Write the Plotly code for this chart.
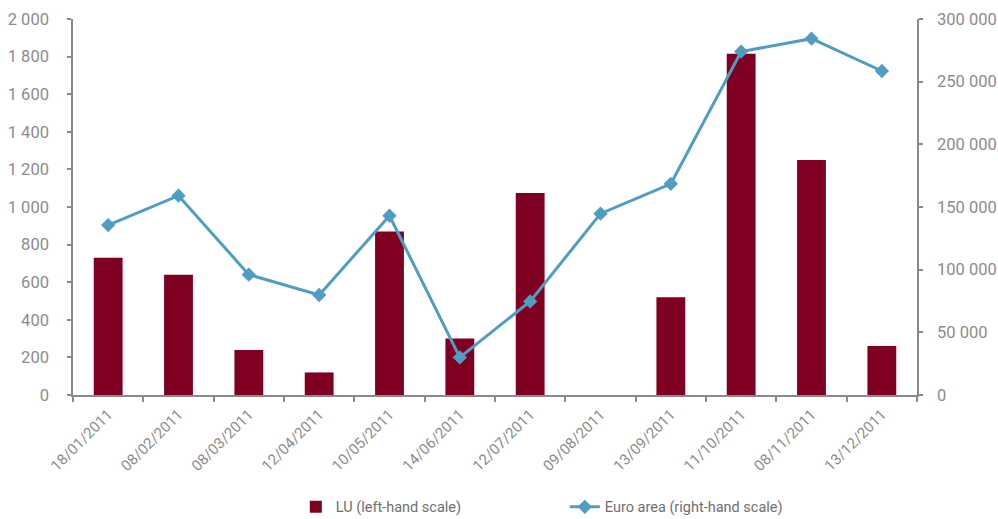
import plotly.graph_objects as go

dates = ["18/01/2011", "08/02/2011", "08/03/2011", "12/04/2011", "10/05/2011", "14/06/2011",
         "12/07/2011", "09/08/2011", "13/09/2011", "11/10/2011", "08/11/2011", "13/12/2011"]
lu_values = [730, 640, 240, 120, 870, 300, 1075, 0, 520, 1815, 1250, 260]
euro_area_values = [135600, 159000, 96000, 79800, 143000, 30000, 74700, 144700, 168500,
                    274000, 284300, 258500]

bar_color = "#800022"
line_color = "#4f9ec2"
axis_color = "#8a8a8a"
text_color = "#8c8c8c"
font_family = "Roboto, 'Open Sans', sans-serif"

n_cat = len(dates)
x_range = [-0.5, n_cat - 0.5]
# boundaries between categories, used for the inward half of the crossing ticks
boundaries = [i - 0.5 for i in range(n_cat + 1)]

fig = go.Figure()
fig.add_trace(go.Bar(
    x=dates, y=lu_values, name="LU (left-hand scale)",
    marker=dict(color=bar_color, line=dict(width=0)),
    width=0.41, yaxis="y",
))
fig.add_trace(go.Scatter(
    x=dates, y=euro_area_values, name="Euro area (right-hand scale)",
    mode="lines+markers",
    line=dict(color=line_color, width=3),
    marker=dict(symbol="diamond", size=11, color=line_color),
    yaxis="y2",
))

tick_style = dict(tickcolor=axis_color, tickwidth=1.5)
axis_common = dict(showgrid=False, zeroline=False, showline=True, linecolor=axis_color,
                   linewidth=1.5, automargin=False,
                   tickfont=dict(family=font_family, size=16.5, color=text_color), **tick_style)
inner_ticks = dict(showgrid=False, zeroline=False, showline=False, showticklabels=False,
                   ticks="inside", ticklen=4, automargin=False, **tick_style)

fig.update_layout(
    width=998, height=519,
    margin=dict(l=73, r=81, t=19, b=124, autoexpand=False),
    paper_bgcolor="white", plot_bgcolor="white",
    separators=". ",
    bargap=0.59,
    font=dict(family=font_family, color=text_color),
    xaxis=dict(type="category", range=x_range, tickson="boundaries", ticks="outside", ticklen=5,
               tickangle=-45, showgrid=False, zeroline=False, showline=True, automargin=False,
               linecolor=axis_color, linewidth=1.5, ticklabelstandoff=3, **tick_style,
               tickfont=dict(family=font_family, size=15, color=text_color)),
    xaxis2=dict(overlaying="x", anchor="y", side="bottom", range=x_range,
                tickmode="array", tickvals=boundaries, **inner_ticks),
    yaxis=dict(range=[0, 2000], dtick=200, tickformat=",d", ticks="outside", ticklen=4,
               ticklabelstandoff=15, **axis_common),
    yaxis2=dict(range=[0, 300000], dtick=50000, tickformat=",d", ticks="outside", ticklen=4,
                overlaying="y", side="right", ticklabelstandoff=11, **axis_common),
    yaxis3=dict(overlaying="y", anchor="x", side="left", range=[0, 2000], dtick=200, **inner_ticks),
    yaxis4=dict(overlaying="y", anchor="x", side="right", range=[0, 300000], dtick=50000,
                **inner_ticks),
    legend=dict(orientation="h", x=0.264, xanchor="left", y=-0.255, yanchor="top",
                entrywidth=224, font=dict(family=font_family, size=14.5, color="#6f6f6f")),
    showlegend=True,
)

fig.write_html("out.html")
